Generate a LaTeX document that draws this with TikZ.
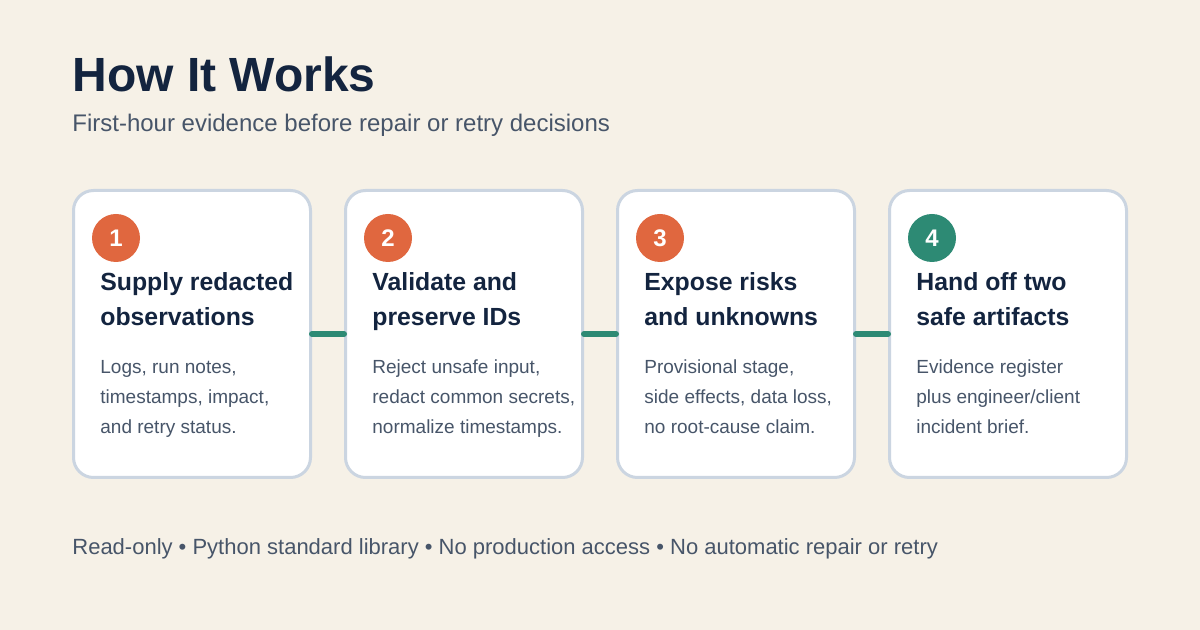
\documentclass[tikz,border=0pt]{standalone}
\usepackage{fontspec}
\setmainfont{Liberation Sans}
\usetikzlibrary{positioning}
\definecolor{pagebg}{HTML}{F6F1E7}
\definecolor{inkblue}{HTML}{13243F}
\definecolor{slate}{HTML}{475569}
\definecolor{cardline}{HTML}{CBD5E1}
\definecolor{steporange}{HTML}{E0673F}
\definecolor{stepteal}{HTML}{2D8A74}

\begin{document}
\begin{tikzpicture}[x=0.5pt, y=-0.5pt,
  card/.style={draw=cardline, line width=1.5pt, fill=white, rounded corners=10pt, minimum width=118.5pt, minimum height=143.5pt, inner sep=0pt},
  badge/.style={circle, fill=#1, minimum size=24pt, inner sep=0pt, text=white, font=\bfseries\fontsize{12}{14}\selectfont},
  head/.style={anchor=base west, align=left, inner sep=0pt, text=inkblue, font=\bfseries\fontsize{12.4}{17.5}\selectfont},
  body/.style={anchor=base west, align=left, inner sep=0pt, text=slate, font=\fontsize{9.5}{15}\selectfont},
  link/.style={draw=stepteal, line width=3pt, line cap=round}
]
  \fill[pagebg] (0,0) rectangle (1200,630);

  \node[anchor=base west, inner sep=0pt, text=inkblue, font=\bfseries\fontsize{24}{28}\selectfont] (title) at (72,92) {How It Works};
  \node[anchor=base west, inner sep=0pt, text=slate, font=\fontsize{12}{14}\selectfont] (subtitle) at (72,132) {First-hour evidence before repair or retry decisions};

  \node[card] (c1) at (192,334) {};
  \node[card] (c2) at (464,334) {};
  \node[card] (c3) at (736,334) {};
  \node[card] (c4) at (1008,334) {};

  \draw[link] (c1.east) -- (c2.west);
  \draw[link] (c2.east) -- (c3.west);
  \draw[link] (c3.east) -- (c4.west);

  \node[badge=steporange] (b1) at (116,238) {1};
  \node[badge=steporange] (b2) at (388,238) {2};
  \node[badge=steporange] (b3) at (660,238) {3};
  \node[badge=stepteal] (b4) at (932,238) {4};

  \node[head] (h1) at (100,326) {Supply redacted\\observations};
  \node[head] (h2) at (372,326) {Validate and\\preserve IDs};
  \node[head] (h3) at (644,326) {Expose risks\\and unknowns};
  \node[head] (h4) at (916,326) {Hand off two\\safe artifacts};

  \node[body] (t1) at (100,434) {Logs, run notes,\\timestamps, impact,\\and retry status.};
  \node[body] (t2) at (372,434) {Reject unsafe input,\\redact common secrets,\\normalize timestamps.};
  \node[body] (t3) at (644,434) {Provisional stage,\\side effects, data loss,\\no root-cause claim.};
  \node[body] (t4) at (916,434) {Evidence register\\plus engineer/client\\incident brief.};

  \node[anchor=base west, inner sep=0pt, text=slate, font=\fontsize{11}{13}\selectfont] (footer) at (72,555) {Read-only • Python standard library • No production access • No automatic repair or retry};
\end{tikzpicture}
\end{document}
